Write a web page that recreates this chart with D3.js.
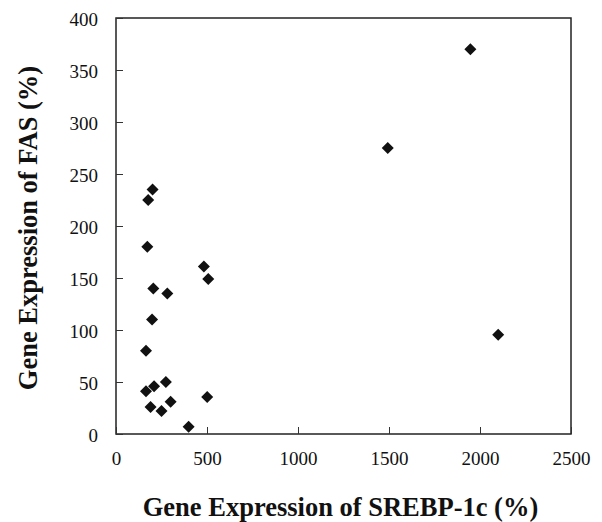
<!DOCTYPE html>
<html><head><meta charset="utf-8">
<script src="https://cdn.jsdelivr.net/npm/d3@7"></script>
<style>body{margin:0;background:#fff}svg{display:block}text{font-family:'Liberation Serif','Times New Roman',serif}</style>
</head><body>
<script>
const srebp = [201, 177, 172, 483, 507, 205, 282, 198, 165, 165, 209, 274, 190, 250, 300, 501, 399, 1947, 1493, 2100];
const fas   = [235, 225, 180, 161, 149, 140, 135, 110, 80, 41, 46, 50, 26, 22, 31, 35.5, 7, 370, 275, 95.5];
const xTicks = [0, 500, 1000, 1500, 2000, 2500];
const yTicks = [0, 50, 100, 150, 200, 250, 300, 350, 400];
const xTitle = "Gene Expression of SREBP-1c (%)";
const yTitle = "Gene Expression of FAS (%)";

const W = 602, H = 522;
const L = 116, R = 571, T = 18, B = 434;
const svg = d3.select("body").append("svg").attr("width", W).attr("height", H);
const x = d3.scaleLinear().domain([0, 2500]).range([L, R]);
const y = d3.scaleLinear().domain([0, 400]).range([B, T]);
const font = "'Liberation Serif','Times New Roman',serif";

svg.append("rect").attr("x", L).attr("y", T).attr("width", R - L).attr("height", B - T)
  .attr("fill", "none").attr("stroke", "#222").attr("stroke-width", 1.5);

const xa = svg.append("g").attr("transform", `translate(0,${B})`)
  .call(d3.axisBottom(x).tickValues(xTicks).tickSize(-7).tickPadding(18).tickFormat(d3.format("d")));
const ya = svg.append("g").attr("transform", `translate(${L},0)`)
  .call(d3.axisLeft(y).tickValues(yTicks).tickSize(-7).tickPadding(18).tickFormat(d3.format("d")));
[xa, ya].forEach(g => {
  g.attr("font-family", null).style("font-family", font);
  g.select(".domain").remove();
  g.selectAll(".tick line").attr("stroke", "#333").attr("stroke-width", 1);
  g.selectAll(".tick text").style("font-family", font).attr("font-size", 19).attr("fill", "#111");
});
ya.selectAll(".tick text").attr("dy", "0.42em");

const r = 6;
svg.append("g").selectAll("path").data(srebp.map((v, i) => [v, fas[i]])).join("path")
  .attr("d", d => { const cx = x(d[0]), cy = y(d[1]);
    return `M${cx},${cy - r}L${cx + r},${cy}L${cx},${cy + r}L${cx - r},${cy}Z`; })
  .attr("fill", "#111");

svg.append("text").attr("x", (L + R) / 2 - 3).attr("y", 516).attr("text-anchor", "middle")
  .style("font-family", font).attr("font-weight", "bold").attr("font-size", 26.5).attr("fill", "#111")
  .text(xTitle);
svg.append("text").attr("transform", `translate(37,${228}) rotate(-90)`).attr("text-anchor", "middle")
  .style("font-family", font).attr("font-weight", "bold").attr("font-size", 26.5).attr("fill", "#111")
  .text(yTitle);
</script>
</body></html>
